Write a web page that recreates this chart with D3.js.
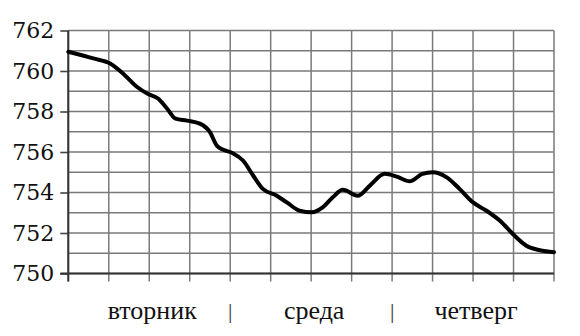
<!DOCTYPE html>
<html>
<head>
<meta charset="utf-8">
<script src="https://cdn.jsdelivr.net/npm/d3@7"></script>
<style>
  body { margin: 0; background: #ffffff; }
  #chart { width: 580px; height: 336px; }
</style>
</head>
<body>
<div id="chart"></div>
<script>
// hours from the start of Tuesday, pressure in mm Hg
const hours = [
  0, 3.7, 6.2, 8.1, 10.2, 11.7, 13.3, 14.6, 15.9, 17.6,
  19.5, 21.0, 22.0, 22.9, 24.4, 25.9, 27.4, 28.8, 30.9, 32.4,
  34.3, 36.1, 37.7, 39.2, 40.7, 42.9, 44.7, 46.9, 48.7, 50.6,
  52.5, 54.0, 56.1, 58.0, 60.0, 62.0, 64.0, 65.9, 67.9, 69.9, 72.0
];

const pressure = [
  760.95, 760.62, 760.37, 759.88, 759.21, 758.89, 758.64, 758.16, 757.65, 757.55,
  757.40, 756.98, 756.32, 756.12, 755.94, 755.58, 754.84, 754.19, 753.84, 753.51,
  753.10, 753.02, 753.26, 753.76, 754.13, 753.84, 754.34, 754.92, 754.78, 754.55,
  754.92, 755.00, 754.75, 754.18, 753.51, 753.10, 752.60, 751.95, 751.37, 751.15, 751.05
];

const yTicks = [750, 752, 754, 756, 758, 760, 762];
const yGrid = d3.range(750, 763, 1);
const xGrid = d3.range(0, 73, 6);

const dayLabels = [
  { hour: 12, text: "вторник" },
  { hour: 36, text: "среда" },
  { hour: 60, text: "четверг" }
];
const separators = [24, 48];

const width = 580;
const height = 336;

const svg = d3.select("#chart")
  .append("svg")
  .attr("width", width)
  .attr("height", height);

const x = d3.scaleLinear()
  .domain([0, 72])
  .range([68.3, 554]);

const y = d3.scaleLinear()
  .domain([750, 762])
  .range([273.5, 30.5]);

const gridColor = "#7a7a7a";

// horizontal grid lines
svg.append("g")
  .selectAll("line")
  .data(yGrid)
  .enter()
  .append("line")
  .attr("x1", x(0))
  .attr("x2", x(72))
  .attr("y1", d => y(d))
  .attr("y2", d => y(d))
  .attr("stroke", gridColor)
  .attr("stroke-width", 1.5);

// vertical grid lines, running down past the axis as ticks
svg.append("g")
  .selectAll("line")
  .data(xGrid)
  .enter()
  .append("line")
  .attr("x1", d => x(d))
  .attr("x2", d => x(d))
  .attr("y1", y(762))
  .attr("y2", y(750) + 8)
  .attr("stroke", gridColor)
  .attr("stroke-width", 1.5);

// left axis with ticks on even values
const yAxis = d3.axisLeft(y)
  .tickValues(yTicks)
  .tickSize(8)
  .tickPadding(6)
  .tickFormat(d3.format("d"));

const yAxisG = svg.append("g")
  .attr("transform", `translate(${x(0)}, 0)`)
  .call(yAxis);

yAxisG.select(".domain").remove();
yAxisG.selectAll(".tick line")
  .attr("stroke", "#444")
  .attr("stroke-width", 1.6);
yAxisG.selectAll(".tick text")
  .style("font-family", "DejaVu Serif")
  .style("font-size", "22px")
  .attr("fill", "#111");

svg.append("line")
  .attr("x1", x(0))
  .attr("x2", x(0))
  .attr("y1", y(762))
  .attr("y2", y(750) + 8)
  .attr("stroke", "#333")
  .attr("stroke-width", 2);

svg.append("line")
  .attr("x1", x(0) - 8)
  .attr("x2", x(72))
  .attr("y1", y(750))
  .attr("y2", y(750))
  .attr("stroke", "#333")
  .attr("stroke-width", 2);

// day labels and separators
svg.append("g")
  .selectAll("text")
  .data(dayLabels)
  .enter()
  .append("text")
  .attr("x", d => x(d.hour) + 3)
  .attr("y", 319)
  .attr("text-anchor", "middle")
  .attr("font-family", "Liberation Serif")
  .attr("font-size", 26)
  .attr("fill", "#111")
  .text(d => d.text);

svg.append("g")
  .selectAll("text")
  .data(separators)
  .enter()
  .append("text")
  .attr("x", d => x(d))
  .attr("y", 318)
  .attr("text-anchor", "middle")
  .attr("font-family", "Liberation Serif")
  .attr("font-size", 22)
  .attr("fill", "#333")
  .text("|");

// pressure curve
const points = hours.map((h, i) => [h, pressure[i]]);

const line = d3.line()
  .x(d => x(d[0]))
  .y(d => y(d[1]))
  .curve(d3.curveMonotoneX);

svg.append("path")
  .datum(points)
  .attr("d", line)
  .attr("fill", "none")
  .attr("stroke", "#000")
  .attr("stroke-width", 4)
  .attr("stroke-linejoin", "round")
  .attr("stroke-linecap", "round");
</script>
</body>
</html>
